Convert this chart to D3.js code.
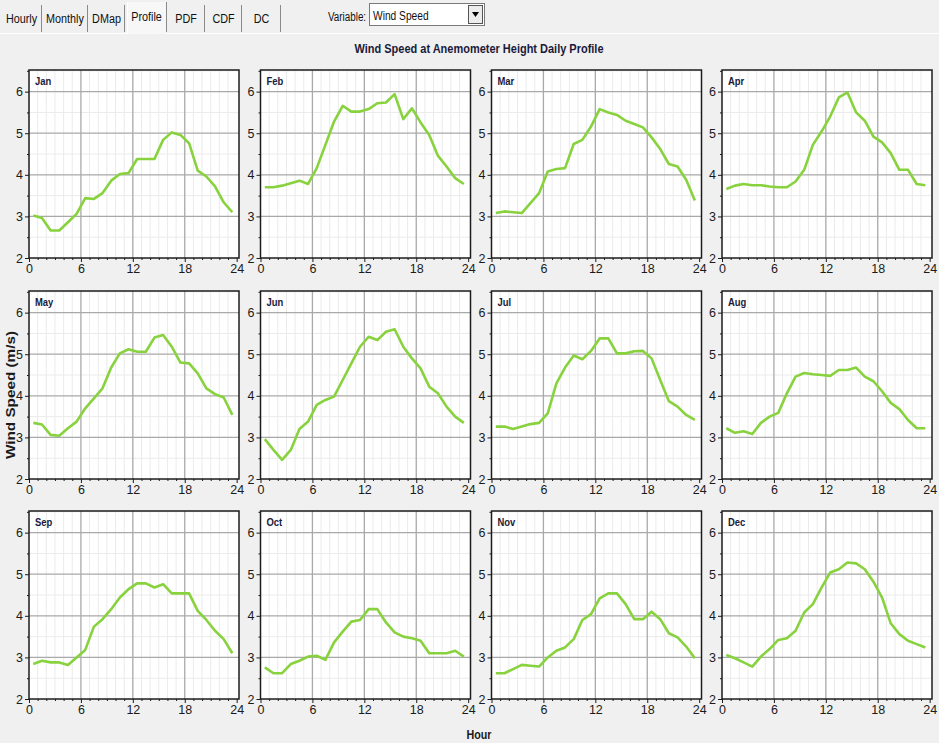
<!DOCTYPE html>
<html>
<head>
<meta charset="utf-8">
<script src="https://cdn.jsdelivr.net/npm/d3@7"></script>
<style>
  html, body { margin: 0; padding: 0; background: #f0f0f0; }
  svg { display: block; }
  text { font-family: "Liberation Sans", Arial, sans-serif; }
</style>
</head>
<body>
<svg id="chart" width="939" height="743"></svg>
<script>
// ---------------- DATA ----------------
const hours = [0.5,1.5,2.5,3.5,4.5,5.5,6.5,7.5,8.5,9.5,10.5,11.5,12.5,13.5,14.5,15.5,16.5,17.5,18.5,19.5,20.5,21.5,22.5,23.5];
const monthNames = ["Jan","Feb","Mar","Apr","May","Jun","Jul","Aug","Sep","Oct","Nov","Dec"];
const jan = [3.02,2.96,2.66,2.66,2.86,3.06,3.44,3.42,3.56,3.86,4.02,4.04,4.38,4.38,4.38,4.84,5.02,4.96,4.76,4.10,3.96,3.72,3.34,3.10];
const feb = [3.70,3.70,3.74,3.80,3.86,3.78,4.16,4.72,5.28,5.66,5.52,5.52,5.58,5.72,5.74,5.94,5.34,5.60,5.26,4.96,4.46,4.20,3.92,3.78];
const mar = [3.08,3.12,3.10,3.08,3.32,3.56,4.08,4.14,4.16,4.74,4.84,5.16,5.58,5.50,5.44,5.30,5.22,5.14,4.90,4.62,4.26,4.20,3.88,3.38];
const apr = [3.66,3.74,3.78,3.75,3.75,3.72,3.70,3.70,3.84,4.12,4.72,5.04,5.40,5.86,5.98,5.50,5.30,4.92,4.78,4.52,4.12,4.12,3.78,3.75];
const may = [3.35,3.31,3.06,3.04,3.22,3.38,3.70,3.94,4.18,4.68,5.02,5.12,5.06,5.06,5.40,5.46,5.18,4.80,4.78,4.54,4.18,4.04,3.96,3.54];
const jun = [2.96,2.70,2.46,2.70,3.20,3.38,3.78,3.90,3.98,4.38,4.78,5.18,5.42,5.34,5.54,5.60,5.18,4.90,4.66,4.22,4.06,3.74,3.50,3.35];
const jul = [3.26,3.26,3.20,3.26,3.32,3.35,3.58,4.30,4.68,4.97,4.88,5.08,5.38,5.38,5.02,5.02,5.07,5.08,4.90,4.38,3.87,3.74,3.54,3.42];
const aug = [3.22,3.11,3.15,3.08,3.35,3.50,3.59,4.06,4.46,4.55,4.52,4.50,4.48,4.62,4.62,4.68,4.46,4.35,4.11,3.83,3.68,3.42,3.22,3.22];
const sep = [2.84,2.92,2.88,2.88,2.82,3.00,3.18,3.74,3.92,4.16,4.44,4.64,4.78,4.78,4.68,4.76,4.54,4.54,4.54,4.12,3.90,3.64,3.44,3.10];
const oct = [2.76,2.62,2.62,2.84,2.92,3.02,3.04,2.94,3.36,3.62,3.86,3.90,4.16,4.16,3.84,3.60,3.50,3.46,3.40,3.10,3.10,3.10,3.16,3.02];
const nov = [2.62,2.62,2.72,2.82,2.80,2.78,3.00,3.16,3.24,3.44,3.90,4.04,4.42,4.54,4.54,4.28,3.92,3.92,4.10,3.92,3.58,3.48,3.26,2.98];
const dec = [3.06,2.98,2.88,2.78,3.02,3.20,3.42,3.46,3.64,4.08,4.28,4.68,5.04,5.12,5.28,5.26,5.12,4.82,4.44,3.82,3.56,3.40,3.32,3.24];
const monthValues = [jan,feb,mar,apr,may,jun,jul,aug,sep,oct,nov,dec];
const xTicks = [0,6,12,18,24];
const yTicks = [2,3,4,5,6];
const tabLabels = ["Hourly","Monthly","DMap","Profile","PDF","CDF","DC"];
const selectedTab = "Profile";
const titleText = "Wind Speed at Anemometer Height Daily Profile";
const yLabel = "Wind Speed (m/s)";
const xLabel = "Hour";
const variableLabel = "Variable:";
const variableValue = "Wind Speed";

// ---------------- HELPERS ----------------
function narrow(sel, factor) {
  sel.each(function () {
    const w = this.getComputedTextLength();
    d3.select(this).attr("textLength", w * factor).attr("lengthAdjust", "spacingAndGlyphs");
  });
  return sel;
}

// ---------------- LAYOUT ----------------
const svg = d3.select("#chart");
const W = 939, H = 743;
svg.append("rect").attr("width", W).attr("height", H).attr("fill", "#f0f0f0");

// Tab strip
const tabX = [2, 43, 89, 127, 168, 206, 243];
const tabRight = [41, 87, 124, 166, 204, 241, 280];
const tabs = svg.append("g");
tabs.append("line").attr("x1", 0).attr("x2", W).attr("y1", 33.5).attr("y2", 33.5).attr("stroke", "#ffffff");
tabLabels.forEach((t, i) => {
  const sel = t === selectedTab;
  const x0 = tabX[i], x1 = tabRight[i];
  if (sel) {
    tabs.append("rect").attr("x", x0).attr("y", 2).attr("width", x1 - x0).attr("height", 32).attr("fill", "#f7f7f7");
    tabs.append("line").attr("x1", x0 + 0.5).attr("x2", x0 + 0.5).attr("y1", 2).attr("y2", 34).attr("stroke", "#ffffff");
  }
  tabs.append("line").attr("x1", x1 + 0.5).attr("x2", x1 + 0.5).attr("y1", sel ? 2 : 5).attr("y2", 32)
    .attr("stroke", "#8a8a8a").attr("stroke-width", 1);
  narrow(tabs.append("text").attr("x", (x0 + x1) / 2).attr("y", sel ? 21 : 23)
    .attr("text-anchor", "middle").attr("font-size", 12).attr("fill", "#111").text(t), 0.9);
});
// Variable combobox
narrow(tabs.append("text").attr("x", 328).attr("y", 21).attr("font-size", 12).attr("fill", "#111").text(variableLabel), 0.82);
tabs.append("rect").attr("x", 369.5).attr("y", 3.5).attr("width", 115).attr("height", 22)
  .attr("fill", "#ffffff").attr("stroke", "#7a7a7a");
narrow(tabs.append("text").attr("x", 373).attr("y", 20).attr("font-size", 12).attr("fill", "#111").text(variableValue), 0.85);
tabs.append("rect").attr("x", 468.5).attr("y", 5.5).attr("width", 14).attr("height", 18)
  .attr("fill", "#ececec").attr("stroke", "#555");
tabs.append("path").attr("d", "M472,12 L479,12 L475.5,17 Z").attr("fill", "#000");

// Title
const title = svg.append("text").attr("x", 479).attr("y", 53).attr("text-anchor", "middle")
  .attr("font-size", 13).attr("font-weight", "bold").attr("fill", "#1a1a3a").text(titleText);
title.attr("textLength", 249).attr("lengthAdjust", "spacingAndGlyphs");

// Axis labels
svg.append("text").attr("transform", "translate(15,395) rotate(-90)").attr("text-anchor", "middle")
  .attr("font-size", 12.5).attr("font-weight", "bold").attr("fill", "#1a1a1a").text(yLabel)
  .attr("textLength", 128).attr("lengthAdjust", "spacingAndGlyphs");
svg.append("text").attr("x", 479).attr("y", 739).attr("text-anchor", "middle")
  .attr("font-size", 13).attr("font-weight", "bold").attr("fill", "#1a1a1a").text(xLabel)
  .attr("textLength", 25).attr("lengthAdjust", "spacingAndGlyphs");

// Panels
const colLeft = [29, 260.5, 491.5, 722];
const rowTop = [70, 291, 511];
const pw = 210, ph = 188;
const x = d3.scaleLinear().domain([0, 24.27]).range([0, pw]);
const y = d3.scaleLinear().domain([2, 6.52]).range([ph, 0]);
const minorX = d3.range(1, 25).filter(h => h % 6 !== 0);
const minorY = [2.5, 3.5, 4.5, 5.5, 6.5];
const majorGX = [6, 12, 18];
const majorGY = [3, 4, 5, 6];
const line = d3.line().x(d => x(d[0])).y(d => y(d[1]));

monthNames.forEach((m, i) => {
  const r = Math.floor(i / 4), c = i % 4;
  const g = svg.append("g").attr("transform", `translate(${colLeft[c]},${rowTop[r]})`);
  g.append("rect").attr("width", pw).attr("height", ph).attr("fill", "#ffffff");
  // minor grid
  g.selectAll(".mgx").data(minorX).enter().append("line")
    .attr("x1", d => x(d)).attr("x2", d => x(d)).attr("y1", 0).attr("y2", ph)
    .attr("stroke", "#ebebeb").attr("stroke-width", 1);
  g.selectAll(".mgy").data(minorY).enter().append("line")
    .attr("x1", 0).attr("x2", pw).attr("y1", d => y(d)).attr("y2", d => y(d))
    .attr("stroke", "#ebebeb").attr("stroke-width", 1);
  // major grid
  g.selectAll(".Mgx").data(majorGX).enter().append("line")
    .attr("x1", d => x(d)).attr("x2", d => x(d)).attr("y1", 0).attr("y2", ph)
    .attr("stroke", "#a9a9a9").attr("stroke-width", 1.3);
  g.selectAll(".Mgy").data(majorGY).enter().append("line")
    .attr("x1", 0).attr("x2", pw).attr("y1", d => y(d)).attr("y2", d => y(d))
    .attr("stroke", "#a9a9a9").attr("stroke-width", 1.3);
  // data line
  const pts = hours.map((h, k) => [h, monthValues[i][k]]);
  g.append("path").attr("d", line(pts)).attr("fill", "none")
    .attr("stroke", "#88d23e").attr("stroke-width", 2.6).attr("stroke-linejoin", "round");
  // frame
  g.append("rect").attr("x", 0).attr("y", 0).attr("width", pw).attr("height", ph)
    .attr("fill", "none").attr("stroke", "#1c1c1c").attr("stroke-width", 1.5);
  // axes
  const ay = g.append("g").call(d3.axisLeft(y).tickValues(yTicks).tickSize(4).tickPadding(2).tickFormat(d3.format("d")));
  ay.select(".domain").remove();
  const ayMinor = g.append("g").call(d3.axisLeft(y).tickValues(minorY.filter(v => v < 6.52)).tickSize(2).tickFormat(""));
  ayMinor.select(".domain").remove();
  const ax = g.append("g").attr("transform", `translate(0,${ph})`)
    .call(d3.axisBottom(x).tickValues(xTicks).tickSize(4).tickPadding(2).tickFormat(d3.format("d")));
  ax.select(".domain").remove();
  const axMinor = g.append("g").attr("transform", `translate(0,${ph})`)
    .call(d3.axisBottom(x).tickValues(minorX).tickSize(2).tickFormat(""));
  axMinor.select(".domain").remove();
  [ay, ax].forEach(a => a.selectAll("text").attr("font-size", 12.5).attr("fill", "#1a1a1a")
    .attr("font-family", "'Liberation Sans',Arial,sans-serif"));
  [ay, ax, ayMinor, axMinor].forEach(a => a.selectAll("line").attr("stroke", "#1c1c1c"));
  // month label
  narrow(g.append("text").attr("x", 6).attr("y", 15).attr("font-size", 11.5).attr("font-weight", "bold")
    .attr("fill", "#1a1a3a").text(m), 0.82);
});
</script>
</body>
</html>
